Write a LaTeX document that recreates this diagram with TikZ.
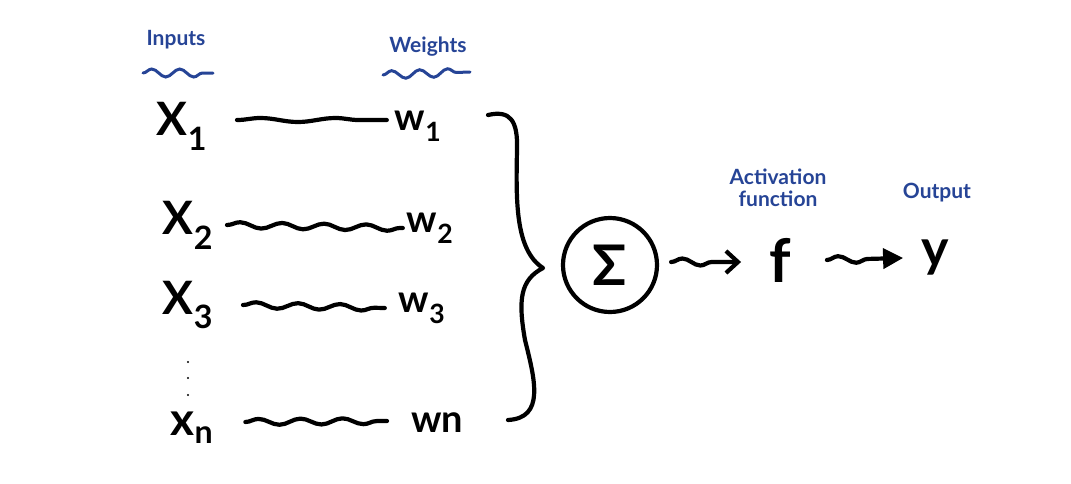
\documentclass[tikz,border=0pt]{standalone}
\usepackage{fontspec}
\setmainfont{Lato}
\usetikzlibrary{decorations.pathmorphing,arrows.meta}
\definecolor{pen}{RGB}{38,68,150}
\begin{document}
\begin{tikzpicture}[x=1pt,y=-1pt,
  lbl/.style={font=\fontsize{46}{48}\selectfont\bfseries, inner sep=0pt, outer sep=0pt},
  wlbl/.style={font=\fontsize{38}{40}\selectfont\bfseries, inner sep=0pt, outer sep=0pt},
  note/.style={text=pen, font=\fontsize{21}{22}\selectfont\bfseries, inner sep=0pt, align=center},
  ink/.style={line width=4.2pt, line cap=round, line join=round},
  wave/.style={ink, decorate, decoration={snake, amplitude=3pt, segment length=42pt}},
  uline/.style={draw=pen, line width=3pt, line cap=round, decorate, decoration={snake, amplitude=4pt, segment length=28pt}},
  arr/.style={ink, decorate, decoration={snake, amplitude=3.5pt, segment length=36pt, post length=18pt}}
]
\useasboundingbox (0,0) rectangle (1071,483);
% headings
\node[note] (inputs) at (176,40) {Inputs};
\node[note] (weights) at (428,47) {Weights};
\node[note] (act) at (778,188) {Activation\\function};
\node[note] (out) at (937,193) {Output};
\draw[uline] (143,73) -- (213,73);
\draw[uline] (383,75) -- (470,72);
% inputs
\node[lbl] (x1) at (182,126) {X\textsubscript{1}};
\node[lbl] (x2) at (188,225) {X\textsubscript{2}};
\node[lbl] (x3) at (188,305) {X\textsubscript{3}};
\node[lbl] (xn) at (192,428) {x\textsubscript{n}};
% weights
\node[wlbl] (w1) at (418,126) {w\textsubscript{1}};
\node[wlbl] (w2) at (430,228) {w\textsubscript{2}};
\node[wlbl] (w3) at (422,308) {w\textsubscript{3}};
\node[wlbl] (wn) at (437,423) {wn};
% connectors
\draw[ink, decorate, decoration={snake, amplitude=2pt, segment length=75pt}] ([xshift=30pt,yshift=6pt]x1.east) -- ([xshift=-8pt,yshift=6pt]w1.west);
\draw[wave] ([xshift=14pt]x2.east) -- ([xshift=-4pt]w2.west);
\draw[wave] ([xshift=30pt]x3.east) -- ([xshift=-14pt]w3.west);
\draw[wave] ([xshift=32pt,yshift=6pt]xn.east) -- ([xshift=-24pt,yshift=2pt]wn.west);
% dots
\fill (188,362) circle (1.2pt);
\fill (188,378) circle (1.2pt);
\fill (188,395) circle (1.2pt);
% brace
\draw[ink] (488,115) .. controls (510,110) and (518,120) .. (517,150)
  .. controls (516,200) and (515,250) .. (543,268)
  .. controls (520,280) and (518,300) .. (525,340)
  .. controls (535,380) and (545,418) .. (508,420);
% sum
\node[draw, circle, ink, minimum size=94pt, inner sep=0pt, font=\fontsize{56}{58}\selectfont\bfseries] (sum) at (610,265) {Σ};
\node[font=\fontsize{60}{62}\selectfont\bfseries, inner sep=0pt] (f) at (780,260) {f};
\node[font=\fontsize{52}{54}\selectfont\bfseries, inner sep=0pt] (y) at (935,258) {y};
\draw[arr, -{Straight Barb[length=12pt,width=22pt]}] ([xshift=12pt,yshift=3pt]sum.east) -- ([xshift=-28pt,yshift=-2pt]f.west);
\draw[arr, -{Triangle[length=20pt,width=20pt]}] ([xshift=36pt]f.east) -- ([xshift=-18pt]y.west);
\end{tikzpicture}
\end{document}
